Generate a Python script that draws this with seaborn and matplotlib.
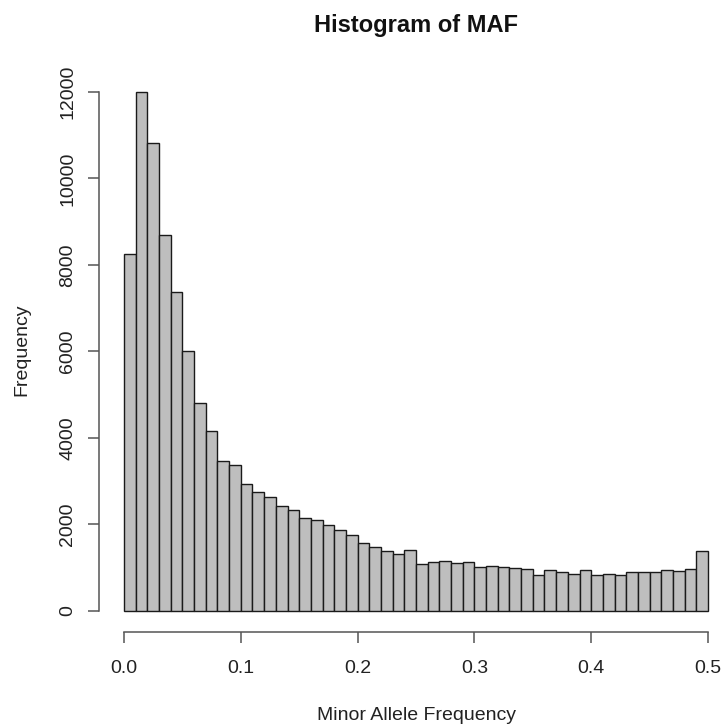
import numpy as np
import pandas as pd
import matplotlib
matplotlib.use("Agg")
import matplotlib.pyplot as plt
import seaborn as sns

bin_edges = [round(i * 0.01, 2) for i in range(51)]
counts = [8250, 12000, 10810, 8700, 7370, 6000, 4810, 4150, 3460, 3380,
          2920, 2740, 2620, 2430, 2340, 2140, 2100, 1976, 1861, 1752,
          1575, 1475, 1382, 1305, 1413, 1081, 1119, 1150, 1096, 1119,
          1011, 1042, 1000, 985, 965, 818, 934, 896, 857, 934,
          818, 857, 818, 896, 903, 896, 934, 919, 965, 1382]
x_ticks = [0.0, 0.1, 0.2, 0.3, 0.4, 0.5]
x_tick_labels = ["0.0", "0.1", "0.2", "0.3", "0.4", "0.5"]
y_ticks = [0, 2000, 4000, 6000, 8000, 10000, 12000]
y_tick_labels = ["0", "2000", "4000", "6000", "8000", "10000", "12000"]

sns.set_style("white")
plt.rcParams['font.family'] = ['Liberation Sans', 'DejaVu Sans']

centers = [(bin_edges[i] + bin_edges[i + 1]) / 2 for i in range(len(counts))]
df = pd.DataFrame({"maf": centers, "n": counts})

W, H = 723, 724
fig = plt.figure(figsize=(W / 100, H / 100), dpi=100)
left_px, right_px, top_px, bot_px = 99, 723, 71, 632
ax = fig.add_axes([left_px / W, 1 - bot_px / H, (right_px - left_px) / W, (bot_px - top_px) / H])

sns.histplot(data=df, x="maf", weights="n", bins=bin_edges, ax=ax,
             color="#BEBEBE", edgecolor="#1a1a1a", linewidth=1.0, alpha=1.0)

px_per_unit = (708 - 124) / 0.5
xmin = 0 - (124 - left_px) / px_per_unit
xmax = 0.5 + (right_px - 708) / px_per_unit
ax.set_xlim(xmin, xmax)
# y: 0 at 610.7 px, 12000 at 92 px
ppc = (610.7 - 92) / 12000
ymin = -(bot_px - 610.7) / ppc
ymax = 12000 + (92 - top_px) / ppc
ax.set_ylim(ymin, ymax)

for s in ["top", "right"]:
    ax.spines[s].set_visible(False)
ax.spines["bottom"].set_bounds(0, 0.5)
ax.spines["left"].set_bounds(0, 12000)
for s in ["bottom", "left"]:
    ax.spines[s].set_color("#555555")
    ax.spines[s].set_linewidth(1.1)

ax.set_xticks(x_ticks)
ax.set_xticklabels(x_tick_labels)
ax.set_yticks(y_ticks)
ax.set_yticklabels(y_tick_labels, rotation=90, va="center")
ax.tick_params(axis="both", direction="out", length=7.9, width=1.1, color="#555555",
               labelsize=14, labelcolor="#222222", bottom=True, left=True)
ax.tick_params(axis="x", pad=12)
ax.tick_params(axis="y", pad=8.6)

ax.set_xlabel("")
ax.set_ylabel("")
fig.text(417 / W, 1 - 720 / H, "Minor Allele Frequency", ha="center", va="baseline",
         fontsize=14, color="#222222")
fig.text(21.5 / W, 1 - 350 / H, "Frequency", ha="center", va="center", rotation=90,
         fontsize=14, color="#222222")
fig.text(416 / W, 1 - 31.7 / H, "Histogram of MAF", ha="center", va="baseline",
         fontsize=17, fontweight="bold", color="#111111")

fig.savefig("out.png", dpi=100)
